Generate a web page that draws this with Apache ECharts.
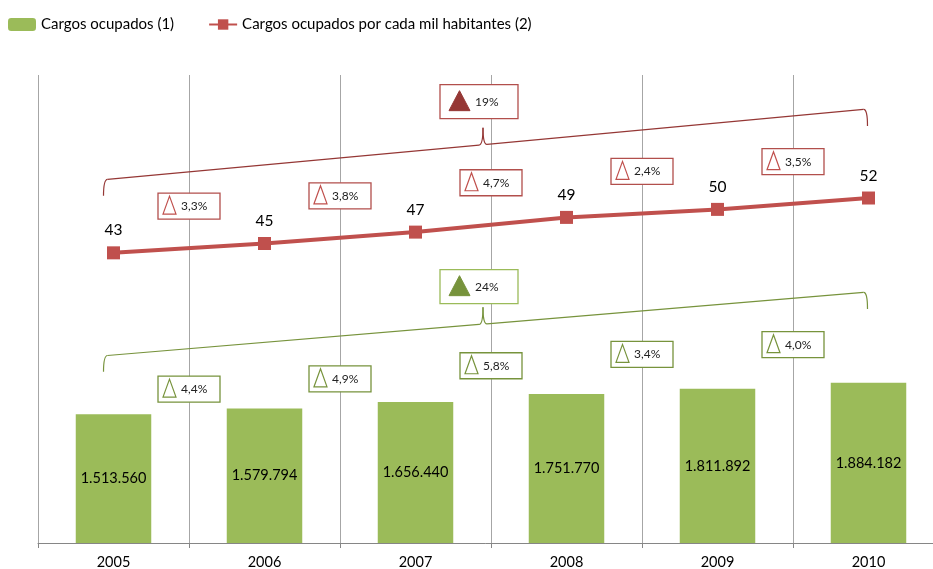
<!DOCTYPE html>
<html>
<head>
<meta charset="utf-8">
<script src="https://cdn.jsdelivr.net/npm/echarts@6/dist/echarts.min.js"></script>
<style>
  html, body { margin: 0; padding: 0; background: #fff; }
  #chart { width: 933px; height: 569px; }
</style>
</head>
<body>
<div id="chart"></div>
<script>
    // values
    const years = ['2005', '2006', '2007', '2008', '2009', '2010'];
    const cargosOcupados = [1513560, 1579794, 1656440, 1751770, 1811892, 1884182];
    const cargosPorMil = [43.4, 44.8, 46.5, 48.7, 49.9, 51.6];
    const variacaoCargos = ['4,4%', '4,9%', '5,8%', '3,4%', '4,0%'];
    const variacaoPorMil = ['3,3%', '3,8%', '4,7%', '2,4%', '3,5%'];
    const totalCargos = '24%';
    const totalPorMil = '19%';

    const FONT = 'Lato';
    const GREEN = '#9BBB59';
    const GREEN_DARK = '#77933C';
    const RED = '#C0504D';
    const RED_DARK = '#953735';

    const chart = echarts.init(document.getElementById('chart'));

    chart.setOption({
        animation: false,
        textStyle: { fontFamily: FONT },
        legend: {
            left: 3,
            top: 12,
            itemWidth: 28,
            itemHeight: 13,
            itemGap: 34,
            textStyle: { fontFamily: FONT, fontSize: 15, color: '#000' },
            data: ['Cargos ocupados (1)', 'Cargos ocupados por cada mil habitantes (2)'],
        },
        // the chart runs a little past the right edge of the picture
        grid: { left: 38, width: 906, top: 75, bottom: 26, outerBoundsMode: 'none', containLabel: false },
        xAxis: {
            type: 'category',
            data: years,
            boundaryGap: true,
            axisLine: { lineStyle: { color: '#868686', width: 1 } },
            axisTick: { show: true, length: 5, lineStyle: { color: '#868686' } },
            axisLabel: { color: '#000', fontSize: 14.5, margin: 12 },
            splitLine: { show: true, lineStyle: { color: '#A6A6A6', width: 1 } },
        },
        yAxis: [
            { type: 'value', min: 0, max: 5500000, show: false, splitLine: { show: false } },
            { type: 'value', min: 0, max: 70, show: false, splitLine: { show: false } },
        ],
        series: [
            {
                name: 'Cargos ocupados (1)',
                type: 'bar',
                yAxisIndex: 0,
                barWidth: '50%',
                data: cargosOcupados,
                itemStyle: { color: GREEN },
                label: {
                    show: true,
                    position: 'inside',
                    color: '#000',
                    fontSize: 14.5,
                    formatter: (p) => p.value.toLocaleString('de-DE'),
                },
            },
            {
                name: 'Cargos ocupados por cada mil habitantes (2)',
                type: 'line',
                yAxisIndex: 1,
                data: cargosPorMil,
                symbol: 'rect',
                symbolSize: 13,
                lineStyle: { color: RED, width: 4 },
                itemStyle: { color: RED },
                label: {
                    show: true,
                    position: 'top',
                    distance: 8,
                    color: '#000',
                    fontSize: 15.5,
                    formatter: (p) => Math.round(p.value),
                },
            },
        ],
    });

    function linePx(i) {
        return chart.convertToPixel({ xAxisIndex: 0, yAxisIndex: 1 }, [i, cargosPorMil[i]]);
    }

    function smallBox(cx, cy, text, stroke, triColor) {
        const w = 62, h = 26;
        const x = cx - w / 2, y = cy - h / 2;
        return [
            {
                type: 'rect',
                shape: { x, y, width: w, height: h },
                style: { fill: '#fff', stroke, lineWidth: 1.3 },
                z: 10,
            },
            {
                type: 'polygon',
                shape: { points: [[x + 5, y + 21], [x + 11.5, y + 3], [x + 18, y + 21]] },
                style: { fill: 'none', stroke: triColor, lineWidth: 1.2 },
                z: 11,
            },
            {
                type: 'text',
                style: { x: x + 23, y: cy, text, fill: '#222', font: '12px ' + FONT, verticalAlign: 'middle' },
                z: 11,
            },
        ];
    }

    function bigBox(cx, cy, text, stroke, triColor) {
        const w = 78, h = 34;
        const x = cx - w / 2, y = cy - h / 2;
        return [
            {
                type: 'rect',
                shape: { x, y, width: w, height: h },
                style: { fill: '#fff', stroke, lineWidth: 1.3 },
                z: 10,
            },
            {
                type: 'polygon',
                shape: { points: [[x + 9, y + 26], [x + 19.5, y + 6], [x + 30, y + 26]] },
                style: { fill: triColor, stroke: triColor, lineWidth: 1 },
                z: 11,
            },
            {
                type: 'text',
                style: { x: x + 35, y: cy, text, fill: '#222', font: '12px ' + FONT, verticalAlign: 'middle' },
                z: 11,
            },
        ];
    }

    // slanted curly brace from (xL, yL) to (xR, yR), cusp at xm pointing up
    function brace(xL, yL, xR, yR, xm, stroke) {
        const yAt = (x) => yL + (yR - yL) * (x - xL) / (xR - xL);
        const ym = yAt(xm);
        const style = { fill: 'none', stroke, lineWidth: 1.2 };
        const curve = (x1, y1, cx, cy, x2, y2) => ({
            type: 'bezierCurve',
            shape: { x1, y1, cpx1: cx, cpy1: cy, x2, y2 },
            style,
            z: 9,
        });
        const seg = (x1, y1, x2, y2) => ({
            type: 'line',
            shape: { x1, y1, x2, y2 },
            style,
            z: 9,
        });
        return [
            curve(xL, yL + 16, xL, yL, xL + 4, yAt(xL + 4)),
            seg(xL + 4, yAt(xL + 4), xm - 4, yAt(xm - 4)),
            curve(xm - 4, yAt(xm - 4), xm, ym, xm, ym - 17),
            curve(xm, ym - 17, xm, ym, xm + 4, yAt(xm + 4)),
            seg(xm + 4, yAt(xm + 4), xR - 4, yAt(xR - 4)),
            curve(xR - 4, yAt(xR - 4), xR, yR, xR, yR + 17),
        ];
    }

    function buildAnnotations() {
        const elements = [];
        const catX = years.map((_, i) => linePx(i)[0]);
        for (let i = 0; i < years.length - 1; i++) {
            const bx = (catX[i] + catX[i + 1]) / 2;
            const midY = (linePx(i)[1] + linePx(i + 1)[1]) / 2;
            const redY = midY - 42;
            elements.push(...smallBox(bx, redY, variacaoPorMil[i], '#B24F4C', RED));
            elements.push(...smallBox(bx, redY + 183, variacaoCargos[i], GREEN_DARK, GREEN_DARK));
        }
        const last = years.length - 1;
        const xL = catX[0] - 10;
        const xR = catX[last] - 1;
        const xm = (catX[2] + catX[3]) / 2 - 8;
        const redL = linePx(0)[1] - 73;
        const redR = linePx(last)[1] - 89;
        elements.push(...brace(xL, redL, xR, redR, xm, RED_DARK));
        elements.push(...brace(xL, redL + 176, xR, redR + 183, xm, GREEN_DARK));
        const redTip = redL + (redR - redL) * (xm - xL) / (xR - xL) - 17;
        const greenTip = redTip + 180;
        elements.push(...bigBox(xm - 4, redTip - 9 - 17, totalPorMil, '#B24F4C', RED_DARK));
        elements.push(...bigBox(xm - 4, greenTip - 4 - 17, totalCargos, GREEN, GREEN_DARK));
        return elements;
    }

    chart.setOption({ graphic: { elements: buildAnnotations() } });
</script>
</body>
</html>
